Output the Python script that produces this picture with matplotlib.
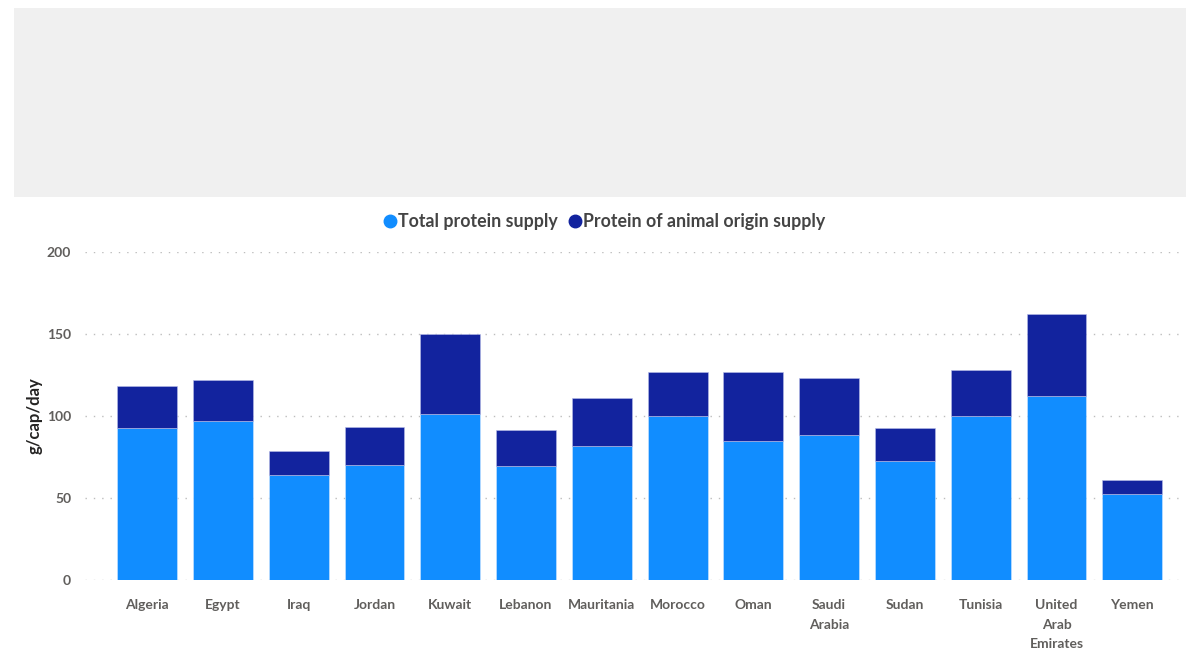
import matplotlib.pyplot as plt
from matplotlib.lines import Line2D
from matplotlib.patches import Rectangle

countries = ['Algeria', 'Egypt', 'Iraq', 'Jordan', 'Kuwait', 'Lebanon', 'Mauritania',
             'Morocco', 'Oman', 'Saudi\nArabia', 'Sudan', 'Tunisia',
             'United\nArab\nEmirates', 'Yemen']
total_protein = [92.5, 97.2, 64.2, 70.3, 101.0, 69.7, 81.7, 100.0, 84.6, 88.6, 72.7, 100.0, 112.0, 52.4]
animal_protein = [25.6, 24.8, 14.7, 23.0, 48.8, 21.8, 29.1, 26.8, 42.0, 34.4, 19.8, 27.8, 50.4, 8.8]
yticks = [0, 50, 100, 150, 200]

c_total = '#118DFF'
c_animal = '#12239E'
txt = '#605E5C'

plt.rcParams['font.family'] = ['Lato', 'DejaVu Sans']

fig = plt.figure(figsize=(11.86, 6.52), dpi=100)

# grey placeholder panel at top
fig.patches.append(Rectangle((14 / 1186, 1 - 197 / 652), 1172 / 1186, 189 / 652,
                             transform=fig.transFigure, facecolor='#F0F0F0',
                             edgecolor='none', zorder=0))

ax = fig.add_axes([85 / 1186, 72 / 652, 1095 / 1186, 328 / 652])
x = list(range(len(countries)))
ax.bar(x, total_protein, width=0.79, color=c_total, edgecolor='#cfe6ff', linewidth=0.4, zorder=3)
ax.bar(x, animal_protein, width=0.79, bottom=total_protein, color=c_animal,
       edgecolor='#b8bde8', linewidth=0.4, zorder=3)

ax.set_xlim(-0.82, 13.63)
ax.set_ylim(0, 200)
ax.set_yticks(yticks)
ax.yaxis.grid(True, linestyle=(0, (1, 5)), color='#BDBDBD', linewidth=1.0, zorder=0)
for s in ax.spines.values():
    s.set_visible(False)
ax.tick_params(axis='both', length=0, labelsize=10, labelcolor=txt)
ax.tick_params(axis='y', pad=10)
ax.tick_params(axis='x', pad=14)
ax.set_xticks(x)
ax.set_xticklabels(countries, linespacing=1.75, fontweight='bold', va='top')
for lbl in ax.get_yticklabels():
    lbl.set_fontweight('bold')

ax.set_ylabel('g/cap/day', fontsize=12, fontweight='bold', color='#252423', labelpad=3)

handles = [Line2D([], [], marker='o', linestyle='none', markersize=9, color=c_total),
           Line2D([], [], marker='o', linestyle='none', markersize=9, color=c_animal)]
fig.legend(handles, ['Total protein supply', 'Protein of animal origin supply'],
           loc='center', bbox_to_anchor=(604 / 1186, 1 - 222 / 652), ncol=2, frameon=False,
           handletextpad=0.05, columnspacing=0.6, handlelength=0.8,
           prop={'size': 12.8, 'weight': 'bold'}, labelcolor='#444444')

fig.savefig('out.png', dpi=100)
